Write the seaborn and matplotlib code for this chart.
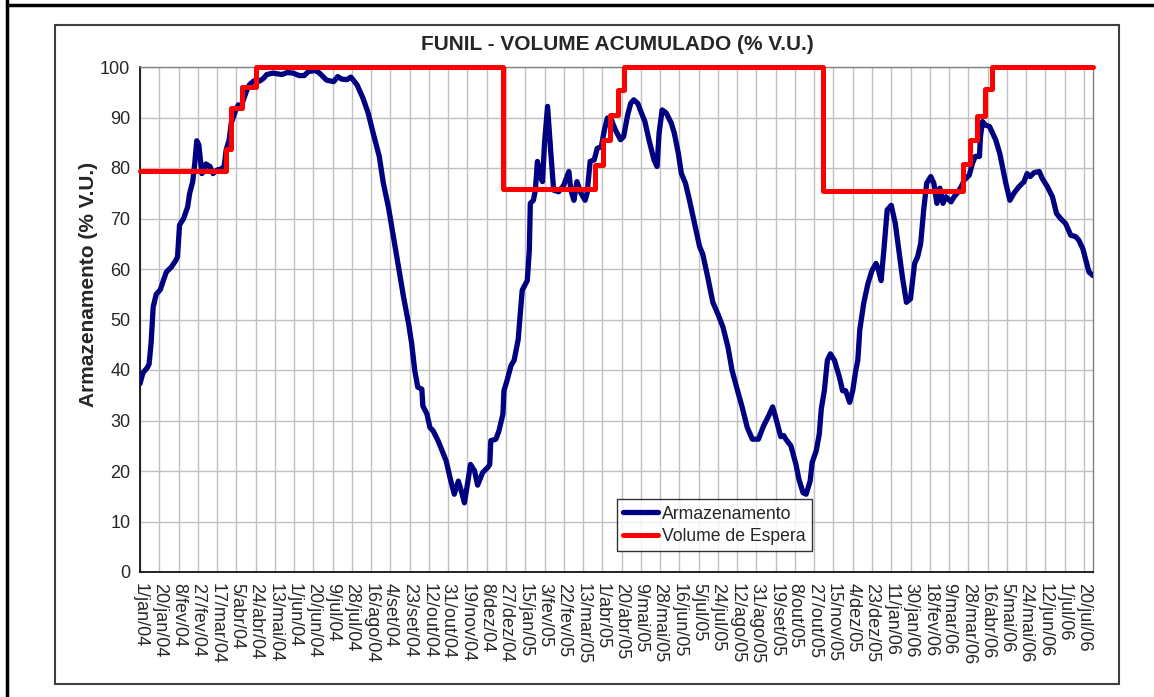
import numpy as np
import pandas as pd
import seaborn as sns
import matplotlib.pyplot as plt
from matplotlib.lines import Line2D
from matplotlib.patches import Rectangle

# Armazenamento (dias desde 1/jan/04, % V.U.)
dias_arm = [0, 3, 7, 9, 11, 13, 16, 20, 23, 26, 31, 35, 37, 39, 43, 47, 49, 52, 54, 56,
            58, 61, 63, 65, 69, 72, 76, 80, 83, 85, 88, 90, 94, 97, 100, 102, 105, 108, 112, 115,
            118, 122, 125, 131, 140, 145, 151, 157, 162, 166, 173, 177, 184, 191, 195, 199, 204, 208, 214, 220,
            225, 230, 236, 240, 245, 250, 255, 260, 265, 268, 271, 274, 278, 279, 283, 286, 289, 294, 298, 302,
            306, 310, 314, 317, 320, 323, 326, 330, 333, 338, 343, 345, 346, 351, 354, 358, 359, 362, 366, 369,
            373, 377, 382, 384, 385, 388, 390, 392, 395, 397, 399, 402, 405, 408, 413, 418, 423, 425, 428, 431,
            435, 439, 441, 444, 448, 451, 455, 458, 461, 465, 469, 474, 477, 481, 484, 487, 491, 494, 498, 502,
            507, 510, 512, 515, 519, 524, 527, 531, 534, 538, 542, 547, 552, 555, 560, 565, 570, 575, 580, 584,
            589, 594, 599, 604, 610, 615, 620, 624, 627, 632, 635, 637, 642, 647, 650, 654, 657, 661, 663, 667,
            670, 672, 675, 678, 681, 685, 690, 693, 696, 700, 703, 706, 708, 710, 714, 718, 722, 726, 728, 731,
            734, 737, 741, 745, 748, 752, 756, 760, 764, 767, 770, 773, 776, 780, 783, 786, 789, 792, 795, 800,
            803, 806, 810, 813, 818, 821, 824, 828, 829, 831, 834, 838, 841, 844, 848, 851, 854, 858, 862, 867,
            872, 875, 878, 882, 887, 890, 895, 900, 904, 908, 913, 918, 923, 926, 930, 933, 936, 940]
armazenamento = [37.3, 39.5, 40.4, 41.2, 45.5, 52.5, 55.0, 55.9, 57.7, 59.4, 60.4, 61.6, 62.4, 68.7, 70.0, 72.3, 75.0, 77.3, 80.9, 85.4,
                 84.6, 78.9, 79.3, 80.8, 80.3, 78.9, 79.6, 79.8, 80.3, 83.6, 85.6, 88.9, 91.2, 92.5, 92.2, 93.5, 95.2, 96.5, 97.2, 97.5,
                 97.2, 97.8, 98.5, 98.8, 98.5, 98.9, 98.8, 98.3, 98.3, 99.1, 99.3, 98.8, 97.4, 97.1, 98.1, 97.6, 97.5, 98.0, 96.5, 93.8,
                 90.9, 86.9, 82.3, 77.0, 72.3, 66.4, 60.4, 54.4, 49.1, 45.2, 39.9, 36.6, 36.2, 32.9, 31.3, 28.6, 28.0, 26.0, 24.0, 22.0,
                 18.5, 15.4, 18.0, 16.0, 13.7, 17.4, 21.3, 20.0, 17.2, 19.7, 20.7, 21.3, 26.0, 26.3, 27.9, 31.3, 35.9, 37.9, 40.9, 41.9,
                 46.0, 55.8, 57.7, 63.7, 73.0, 73.6, 75.6, 81.3, 78.3, 77.3, 84.9, 92.2, 83.6, 75.6, 75.3, 76.6, 79.3, 75.6, 73.6, 77.3,
                 75.0, 73.6, 75.0, 81.3, 81.6, 83.9, 84.2, 87.5, 89.9, 89.5, 87.5, 85.6, 86.2, 90.5, 92.8, 93.5, 92.8, 91.2, 89.2, 85.6,
                 81.6, 80.3, 86.9, 91.5, 90.9, 88.9, 86.9, 82.9, 78.9, 77.0, 73.6, 69.0, 64.4, 63.0, 58.4, 53.4, 51.1, 48.5, 44.5, 39.9,
                 36.2, 32.6, 28.6, 26.3, 26.3, 28.9, 30.9, 32.7, 30.6, 26.8, 27.0, 26.3, 25.0, 21.3, 18.3, 15.7, 15.4, 18.0, 21.7, 24.0,
                 27.3, 32.3, 35.9, 41.9, 43.2, 41.9, 38.5, 35.9, 35.9, 33.6, 35.9, 39.9, 41.9, 48.0, 53.4, 57.1, 59.7, 61.1, 60.1, 57.7,
                 64.4, 71.7, 72.6, 69.0, 64.4, 58.4, 53.4, 54.1, 61.1, 62.4, 65.0, 71.7, 77.0, 78.3, 77.0, 73.0, 76.0, 73.0, 74.3, 73.3,
                 74.3, 75.0, 76.3, 77.6, 78.6, 80.9, 82.3, 82.3, 86.2, 89.2, 88.5, 88.2, 86.9, 85.6, 82.9, 79.9, 77.0, 73.6, 75.0, 76.3,
                 77.3, 78.9, 78.3, 79.1, 79.3, 77.9, 76.3, 74.3, 71.0, 70.0, 69.0, 66.7, 66.4, 65.7, 64.0, 61.7, 59.4, 58.7]

# Volume de espera (degraus: dia de início, valor)
dias_esp = [0, 85, 90, 101, 114, 358, 449, 457, 464, 471, 477, 674, 812, 819, 826, 833, 840, 940]
volume_espera = [79.5, 83.8, 91.8, 96.0, 100.0, 75.8, 80.6, 85.6, 90.5, 95.4, 100.0, 75.5, 80.8, 85.6, 90.2, 95.6, 100.0, 100.0]

meses = ['jan', 'fev', 'mar', 'abr', 'mai', 'jun', 'jul', 'ago', 'set', 'out', 'nov', 'dez']

inicio = pd.Timestamp('2004-01-01')
df_arm = pd.DataFrame({'data': inicio + pd.to_timedelta(dias_arm, unit='D'), 'valor': armazenamento})
df_esp = pd.DataFrame({'data': inicio + pd.to_timedelta(dias_esp, unit='D'), 'valor': volume_espera})

sns.set_theme(style='white')
plt.rcParams['font.family'] = ['Liberation Sans', 'DejaVu Sans']

fig = plt.figure(figsize=(11.54, 6.97), dpi=100)
W, H = 1154, 697
ax = fig.add_axes([140 / W, 1 - 572 / H, (1093 - 140) / W, (572 - 67) / H])

sns.lineplot(data=df_arm, x='data', y='valor', ax=ax, color='#000080', lw=3.8,
             label='Armazenamento', zorder=3)
sns.lineplot(data=df_esp, x='data', y='valor', ax=ax, color='#ff0000', lw=3.6,
             drawstyle='steps-post', label='Volume de Espera', zorder=4, clip_on=False)

ax.set_ylim(0, 100)
ax.set_xlim(inicio, inicio + pd.Timedelta(days=940))
ax.set_yticks(range(0, 101, 10))
ticks = pd.date_range(inicio, inicio + pd.Timedelta(days=931), freq='19D')
ax.set_xticks(ticks)
ax.set_xticklabels([f"{t.day}/{meses[t.month - 1]}/{t.strftime('%y')}" for t in ticks],
                   rotation=-90, fontsize=13)
ax.tick_params(axis='y', labelsize=13, length=4, width=1, color='black', direction='out', pad=3)
ax.tick_params(axis='x', length=5, width=1, color='black', direction='out', pad=3)
ax.grid(True, color='#c0c0c0', lw=1)
ax.set_xlabel('')
ax.set_ylabel('')

for lado in ['top', 'right']:
    ax.spines[lado].set_color('#808080')
    ax.spines[lado].set_linewidth(1)
for lado in ['left', 'bottom']:
    ax.spines[lado].set_color('black')
    ax.spines[lado].set_linewidth(1.2)

leg = ax.legend(loc='lower left', bbox_to_anchor=((617 - 140) / 953, (572 - 551) / 505),
                borderaxespad=0, fontsize=12.7, frameon=True, fancybox=False, shadow=False,
                handlelength=2.0, handletextpad=0.2, borderpad=0.35, labelspacing=0.3)
leg.get_frame().set_edgecolor('black')
leg.get_frame().set_linewidth(1)

fig.text(617 / W, 1 - 45 / H, 'FUNIL - VOLUME ACUMULADO (% V.U.)', ha='center', va='center',
         fontsize=15, fontweight='bold')
fig.text(88 / W, 1 - 284 / H, 'Armazenamento (% V.U.)', ha='center', va='center',
         rotation=90, fontsize=15, fontweight='bold')

# moldura da área do gráfico e bordas da célula
fig.patches.append(Rectangle((55 / W, 1 - 684 / H), (1119 - 55) / W, (684 - 25) / H,
                             transform=fig.transFigure, fill=False, edgecolor='#404040', lw=1.5))
fig.lines.append(Line2D([7 / W, 1], [1 - 5 / H, 1 - 5 / H], transform=fig.transFigure,
                        color='black', lw=2.5))
fig.lines.append(Line2D([7 / W, 7 / W], [0, 1], transform=fig.transFigure,
                        color='black', lw=2.5))

fig.savefig('out.png', dpi=100)
